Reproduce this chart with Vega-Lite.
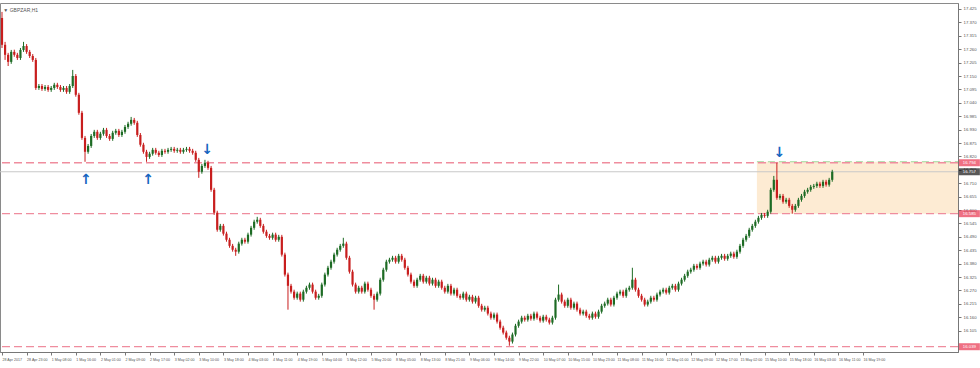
{
"$schema":"https://vega.github.io/schema/vega-lite/v6.json",
"width":958,"height":349,
"autosize":{"type":"none"},
"padding":{"left":0,"top":3,"right":22,"bottom":16},
"background":"white",
"config":{"view":{"stroke":"#8a8a8a","strokeWidth":1},"font":"Liberation Sans",
 "axis":{"labelOverlap":false,"labelFlush":false,"labelFont":"Liberation Sans","labelFontSize":4.3,"labelColor":"#555","grid":false,"title":null,"tickColor":"#777","domainColor":"#777","tickSize":3,"labelPadding":2}},
"title":{"text":"▼ GBPZAR,H1","anchor":"start","fontSize":5,"fontWeight":"normal","color":"#555","offset":-10,"dx":4,"font":"Liberation Sans"},
"datasets":{
"candles":[
{"n":0,"o":17.388,"h":17.413,"l":17.265,"c":17.278},
{"n":1,"o":17.278,"h":17.290,"l":17.216,"c":17.237},
{"n":2,"o":17.237,"h":17.245,"l":17.191,"c":17.208},
{"n":3,"o":17.208,"h":17.257,"l":17.200,"c":17.249},
{"n":4,"o":17.249,"h":17.258,"l":17.229,"c":17.237},
{"n":5,"o":17.237,"h":17.245,"l":17.216,"c":17.224},
{"n":6,"o":17.224,"h":17.265,"l":17.216,"c":17.257},
{"n":7,"o":17.257,"h":17.290,"l":17.249,"c":17.273},
{"n":8,"o":17.273,"h":17.281,"l":17.241,"c":17.249},
{"n":9,"o":17.249,"h":17.257,"l":17.224,"c":17.232},
{"n":10,"o":17.232,"h":17.240,"l":17.208,"c":17.216},
{"n":11,"o":17.216,"h":17.224,"l":17.093,"c":17.101},
{"n":12,"o":17.101,"h":17.117,"l":17.093,"c":17.109},
{"n":13,"o":17.109,"h":17.117,"l":17.089,"c":17.097},
{"n":14,"o":17.097,"h":17.113,"l":17.089,"c":17.105},
{"n":15,"o":17.105,"h":17.113,"l":17.085,"c":17.093},
{"n":16,"o":17.093,"h":17.109,"l":17.085,"c":17.101},
{"n":17,"o":17.101,"h":17.122,"l":17.093,"c":17.114},
{"n":18,"o":17.114,"h":17.122,"l":17.097,"c":17.105},
{"n":19,"o":17.105,"h":17.113,"l":17.085,"c":17.093},
{"n":20,"o":17.093,"h":17.109,"l":17.085,"c":17.101},
{"n":21,"o":17.101,"h":17.109,"l":17.077,"c":17.085},
{"n":22,"o":17.085,"h":17.117,"l":17.077,"c":17.109},
{"n":23,"o":17.109,"h":17.175,"l":17.101,"c":17.150},
{"n":24,"o":17.150,"h":17.158,"l":17.065,"c":17.073},
{"n":25,"o":17.073,"h":17.081,"l":16.991,"c":16.999},
{"n":26,"o":16.999,"h":17.007,"l":16.888,"c":16.896},
{"n":27,"o":16.896,"h":16.904,"l":16.798,"c":16.839},
{"n":28,"o":16.839,"h":16.871,"l":16.831,"c":16.863},
{"n":29,"o":16.863,"h":16.912,"l":16.855,"c":16.904},
{"n":30,"o":16.904,"h":16.929,"l":16.896,"c":16.921},
{"n":31,"o":16.921,"h":16.929,"l":16.888,"c":16.896},
{"n":32,"o":16.896,"h":16.921,"l":16.888,"c":16.913},
{"n":33,"o":16.913,"h":16.937,"l":16.905,"c":16.929},
{"n":34,"o":16.929,"h":16.937,"l":16.896,"c":16.904},
{"n":35,"o":16.904,"h":16.912,"l":16.884,"c":16.892},
{"n":36,"o":16.892,"h":16.925,"l":16.884,"c":16.917},
{"n":37,"o":16.917,"h":16.933,"l":16.909,"c":16.925},
{"n":38,"o":16.925,"h":16.933,"l":16.900,"c":16.908},
{"n":39,"o":16.908,"h":16.929,"l":16.900,"c":16.921},
{"n":40,"o":16.921,"h":16.949,"l":16.913,"c":16.941},
{"n":41,"o":16.941,"h":16.962,"l":16.933,"c":16.954},
{"n":42,"o":16.954,"h":16.982,"l":16.946,"c":16.970},
{"n":43,"o":16.970,"h":16.978,"l":16.950,"c":16.958},
{"n":44,"o":16.958,"h":16.966,"l":16.900,"c":16.908},
{"n":45,"o":16.908,"h":16.916,"l":16.860,"c":16.868},
{"n":46,"o":16.868,"h":16.876,"l":16.831,"c":16.839},
{"n":47,"o":16.839,"h":16.847,"l":16.798,"c":16.818},
{"n":48,"o":16.818,"h":16.839,"l":16.810,"c":16.831},
{"n":49,"o":16.831,"h":16.855,"l":16.823,"c":16.847},
{"n":50,"o":16.847,"h":16.855,"l":16.827,"c":16.835},
{"n":51,"o":16.835,"h":16.843,"l":16.818,"c":16.826},
{"n":52,"o":16.826,"h":16.851,"l":16.818,"c":16.843},
{"n":53,"o":16.843,"h":16.851,"l":16.831,"c":16.839},
{"n":54,"o":16.839,"h":16.855,"l":16.831,"c":16.847},
{"n":55,"o":16.847,"h":16.859,"l":16.839,"c":16.851},
{"n":56,"o":16.851,"h":16.859,"l":16.835,"c":16.843},
{"n":57,"o":16.843,"h":16.855,"l":16.835,"c":16.847},
{"n":58,"o":16.847,"h":16.855,"l":16.831,"c":16.839},
{"n":59,"o":16.839,"h":16.855,"l":16.831,"c":16.847},
{"n":60,"o":16.847,"h":16.859,"l":16.839,"c":16.851},
{"n":61,"o":16.851,"h":16.859,"l":16.835,"c":16.843},
{"n":62,"o":16.843,"h":16.851,"l":16.827,"c":16.835},
{"n":63,"o":16.835,"h":16.843,"l":16.798,"c":16.806},
{"n":64,"o":16.806,"h":16.814,"l":16.732,"c":16.757},
{"n":65,"o":16.757,"h":16.789,"l":16.749,"c":16.781},
{"n":66,"o":16.781,"h":16.806,"l":16.773,"c":16.794},
{"n":67,"o":16.794,"h":16.802,"l":16.765,"c":16.773},
{"n":68,"o":16.773,"h":16.781,"l":16.675,"c":16.683},
{"n":69,"o":16.683,"h":16.691,"l":16.580,"c":16.589},
{"n":70,"o":16.589,"h":16.597,"l":16.511,"c":16.519},
{"n":71,"o":16.519,"h":16.543,"l":16.511,"c":16.535},
{"n":72,"o":16.535,"h":16.543,"l":16.495,"c":16.503},
{"n":73,"o":16.503,"h":16.511,"l":16.470,"c":16.478},
{"n":74,"o":16.478,"h":16.486,"l":16.445,"c":16.453},
{"n":75,"o":16.453,"h":16.461,"l":16.429,"c":16.437},
{"n":76,"o":16.437,"h":16.445,"l":16.412,"c":16.429},
{"n":77,"o":16.429,"h":16.470,"l":16.421,"c":16.462},
{"n":78,"o":16.462,"h":16.486,"l":16.454,"c":16.478},
{"n":79,"o":16.478,"h":16.486,"l":16.462,"c":16.470},
{"n":80,"o":16.470,"h":16.507,"l":16.462,"c":16.499},
{"n":81,"o":16.499,"h":16.535,"l":16.491,"c":16.527},
{"n":82,"o":16.527,"h":16.560,"l":16.519,"c":16.552},
{"n":83,"o":16.552,"h":16.572,"l":16.544,"c":16.560},
{"n":84,"o":16.560,"h":16.568,"l":16.527,"c":16.535},
{"n":85,"o":16.535,"h":16.543,"l":16.503,"c":16.511},
{"n":86,"o":16.511,"h":16.519,"l":16.486,"c":16.494},
{"n":87,"o":16.494,"h":16.502,"l":16.478,"c":16.486},
{"n":88,"o":16.486,"h":16.507,"l":16.478,"c":16.499},
{"n":89,"o":16.499,"h":16.507,"l":16.470,"c":16.478},
{"n":90,"o":16.478,"h":16.498,"l":16.470,"c":16.490},
{"n":91,"o":16.490,"h":16.498,"l":16.409,"c":16.417},
{"n":92,"o":16.417,"h":16.425,"l":16.327,"c":16.335},
{"n":93,"o":16.335,"h":16.343,"l":16.191,"c":16.289},
{"n":94,"o":16.289,"h":16.297,"l":16.257,"c":16.265},
{"n":95,"o":16.265,"h":16.273,"l":16.232,"c":16.240},
{"n":96,"o":16.240,"h":16.265,"l":16.232,"c":16.257},
{"n":97,"o":16.257,"h":16.265,"l":16.224,"c":16.232},
{"n":98,"o":16.232,"h":16.273,"l":16.224,"c":16.265},
{"n":99,"o":16.265,"h":16.289,"l":16.257,"c":16.281},
{"n":100,"o":16.281,"h":16.302,"l":16.273,"c":16.294},
{"n":101,"o":16.294,"h":16.302,"l":16.257,"c":16.265},
{"n":102,"o":16.265,"h":16.273,"l":16.232,"c":16.240},
{"n":103,"o":16.240,"h":16.256,"l":16.232,"c":16.248},
{"n":104,"o":16.248,"h":16.302,"l":16.240,"c":16.294},
{"n":105,"o":16.294,"h":16.343,"l":16.286,"c":16.335},
{"n":106,"o":16.335,"h":16.371,"l":16.327,"c":16.363},
{"n":107,"o":16.363,"h":16.396,"l":16.355,"c":16.388},
{"n":108,"o":16.388,"h":16.425,"l":16.380,"c":16.417},
{"n":109,"o":16.417,"h":16.445,"l":16.409,"c":16.437},
{"n":110,"o":16.437,"h":16.461,"l":16.429,"c":16.453},
{"n":111,"o":16.453,"h":16.486,"l":16.445,"c":16.462},
{"n":112,"o":16.462,"h":16.470,"l":16.396,"c":16.404},
{"n":113,"o":16.404,"h":16.412,"l":16.339,"c":16.347},
{"n":114,"o":16.347,"h":16.355,"l":16.286,"c":16.294},
{"n":115,"o":16.294,"h":16.302,"l":16.257,"c":16.265},
{"n":116,"o":16.265,"h":16.289,"l":16.257,"c":16.281},
{"n":117,"o":16.281,"h":16.289,"l":16.257,"c":16.265},
{"n":118,"o":16.265,"h":16.306,"l":16.257,"c":16.298},
{"n":119,"o":16.298,"h":16.306,"l":16.265,"c":16.273},
{"n":120,"o":16.273,"h":16.281,"l":16.240,"c":16.248},
{"n":121,"o":16.248,"h":16.256,"l":16.191,"c":16.232},
{"n":122,"o":16.232,"h":16.265,"l":16.224,"c":16.257},
{"n":123,"o":16.257,"h":16.322,"l":16.249,"c":16.314},
{"n":124,"o":16.314,"h":16.363,"l":16.306,"c":16.355},
{"n":125,"o":16.355,"h":16.396,"l":16.347,"c":16.388},
{"n":126,"o":16.388,"h":16.404,"l":16.380,"c":16.396},
{"n":127,"o":16.396,"h":16.412,"l":16.388,"c":16.404},
{"n":128,"o":16.404,"h":16.412,"l":16.380,"c":16.388},
{"n":129,"o":16.388,"h":16.420,"l":16.380,"c":16.412},
{"n":130,"o":16.412,"h":16.420,"l":16.388,"c":16.396},
{"n":131,"o":16.396,"h":16.404,"l":16.355,"c":16.363},
{"n":132,"o":16.363,"h":16.371,"l":16.327,"c":16.335},
{"n":133,"o":16.335,"h":16.343,"l":16.298,"c":16.306},
{"n":134,"o":16.306,"h":16.314,"l":16.281,"c":16.289},
{"n":135,"o":16.289,"h":16.322,"l":16.281,"c":16.314},
{"n":136,"o":16.314,"h":16.338,"l":16.306,"c":16.330},
{"n":137,"o":16.330,"h":16.338,"l":16.298,"c":16.306},
{"n":138,"o":16.306,"h":16.330,"l":16.298,"c":16.322},
{"n":139,"o":16.322,"h":16.330,"l":16.290,"c":16.298},
{"n":140,"o":16.298,"h":16.322,"l":16.290,"c":16.314},
{"n":141,"o":16.314,"h":16.322,"l":16.281,"c":16.289},
{"n":142,"o":16.289,"h":16.314,"l":16.281,"c":16.306},
{"n":143,"o":16.306,"h":16.314,"l":16.273,"c":16.281},
{"n":144,"o":16.281,"h":16.289,"l":16.257,"c":16.265},
{"n":145,"o":16.265,"h":16.297,"l":16.257,"c":16.289},
{"n":146,"o":16.289,"h":16.297,"l":16.249,"c":16.257},
{"n":147,"o":16.257,"h":16.281,"l":16.249,"c":16.273},
{"n":148,"o":16.273,"h":16.281,"l":16.240,"c":16.248},
{"n":149,"o":16.248,"h":16.256,"l":16.232,"c":16.240},
{"n":150,"o":16.240,"h":16.265,"l":16.232,"c":16.257},
{"n":151,"o":16.257,"h":16.265,"l":16.224,"c":16.232},
{"n":152,"o":16.232,"h":16.252,"l":16.224,"c":16.244},
{"n":153,"o":16.244,"h":16.252,"l":16.216,"c":16.224},
{"n":154,"o":16.224,"h":16.248,"l":16.216,"c":16.240},
{"n":155,"o":16.240,"h":16.248,"l":16.199,"c":16.207},
{"n":156,"o":16.207,"h":16.215,"l":16.183,"c":16.191},
{"n":157,"o":16.191,"h":16.207,"l":16.183,"c":16.199},
{"n":158,"o":16.199,"h":16.207,"l":16.167,"c":16.175},
{"n":159,"o":16.175,"h":16.183,"l":16.150,"c":16.158},
{"n":160,"o":16.158,"h":16.179,"l":16.150,"c":16.171},
{"n":161,"o":16.171,"h":16.179,"l":16.134,"c":16.142},
{"n":162,"o":16.142,"h":16.150,"l":16.109,"c":16.117},
{"n":163,"o":16.117,"h":16.125,"l":16.089,"c":16.097},
{"n":164,"o":16.097,"h":16.105,"l":16.068,"c":16.076},
{"n":165,"o":16.076,"h":16.084,"l":16.043,"c":16.060},
{"n":166,"o":16.060,"h":16.097,"l":16.052,"c":16.089},
{"n":167,"o":16.089,"h":16.133,"l":16.081,"c":16.125},
{"n":168,"o":16.125,"h":16.150,"l":16.117,"c":16.142},
{"n":169,"o":16.142,"h":16.166,"l":16.134,"c":16.158},
{"n":170,"o":16.158,"h":16.166,"l":16.142,"c":16.150},
{"n":171,"o":16.150,"h":16.174,"l":16.142,"c":16.166},
{"n":172,"o":16.166,"h":16.174,"l":16.146,"c":16.154},
{"n":173,"o":16.154,"h":16.183,"l":16.146,"c":16.175},
{"n":174,"o":16.175,"h":16.183,"l":16.150,"c":16.158},
{"n":175,"o":16.158,"h":16.166,"l":16.138,"c":16.146},
{"n":176,"o":16.146,"h":16.170,"l":16.138,"c":16.162},
{"n":177,"o":16.162,"h":16.170,"l":16.142,"c":16.150},
{"n":178,"o":16.150,"h":16.158,"l":16.130,"c":16.138},
{"n":179,"o":16.138,"h":16.166,"l":16.130,"c":16.158},
{"n":180,"o":16.158,"h":16.240,"l":16.150,"c":16.232},
{"n":181,"o":16.232,"h":16.294,"l":16.224,"c":16.253},
{"n":182,"o":16.253,"h":16.261,"l":16.216,"c":16.224},
{"n":183,"o":16.224,"h":16.232,"l":16.199,"c":16.207},
{"n":184,"o":16.207,"h":16.240,"l":16.199,"c":16.232},
{"n":185,"o":16.232,"h":16.240,"l":16.191,"c":16.199},
{"n":186,"o":16.199,"h":16.224,"l":16.191,"c":16.216},
{"n":187,"o":16.216,"h":16.224,"l":16.183,"c":16.191},
{"n":188,"o":16.191,"h":16.199,"l":16.167,"c":16.175},
{"n":189,"o":16.175,"h":16.191,"l":16.167,"c":16.183},
{"n":190,"o":16.183,"h":16.191,"l":16.158,"c":16.166},
{"n":191,"o":16.166,"h":16.174,"l":16.150,"c":16.158},
{"n":192,"o":16.158,"h":16.183,"l":16.150,"c":16.175},
{"n":193,"o":16.175,"h":16.183,"l":16.154,"c":16.162},
{"n":194,"o":16.162,"h":16.191,"l":16.154,"c":16.183},
{"n":195,"o":16.183,"h":16.215,"l":16.175,"c":16.207},
{"n":196,"o":16.207,"h":16.224,"l":16.199,"c":16.216},
{"n":197,"o":16.216,"h":16.240,"l":16.208,"c":16.232},
{"n":198,"o":16.232,"h":16.240,"l":16.204,"c":16.212},
{"n":199,"o":16.212,"h":16.248,"l":16.204,"c":16.240},
{"n":200,"o":16.240,"h":16.265,"l":16.232,"c":16.257},
{"n":201,"o":16.257,"h":16.273,"l":16.249,"c":16.265},
{"n":202,"o":16.265,"h":16.273,"l":16.240,"c":16.248},
{"n":203,"o":16.248,"h":16.281,"l":16.240,"c":16.273},
{"n":204,"o":16.273,"h":16.289,"l":16.265,"c":16.281},
{"n":205,"o":16.281,"h":16.363,"l":16.273,"c":16.314},
{"n":206,"o":16.314,"h":16.322,"l":16.265,"c":16.273},
{"n":207,"o":16.273,"h":16.281,"l":16.240,"c":16.248},
{"n":208,"o":16.248,"h":16.256,"l":16.224,"c":16.232},
{"n":209,"o":16.232,"h":16.240,"l":16.204,"c":16.212},
{"n":210,"o":16.212,"h":16.232,"l":16.204,"c":16.224},
{"n":211,"o":16.224,"h":16.248,"l":16.216,"c":16.240},
{"n":212,"o":16.240,"h":16.248,"l":16.224,"c":16.232},
{"n":213,"o":16.232,"h":16.261,"l":16.224,"c":16.253},
{"n":214,"o":16.253,"h":16.273,"l":16.245,"c":16.265},
{"n":215,"o":16.265,"h":16.281,"l":16.257,"c":16.273},
{"n":216,"o":16.273,"h":16.281,"l":16.253,"c":16.261},
{"n":217,"o":16.261,"h":16.289,"l":16.253,"c":16.281},
{"n":218,"o":16.281,"h":16.297,"l":16.273,"c":16.289},
{"n":219,"o":16.289,"h":16.297,"l":16.265,"c":16.273},
{"n":220,"o":16.273,"h":16.306,"l":16.265,"c":16.298},
{"n":221,"o":16.298,"h":16.322,"l":16.290,"c":16.314},
{"n":222,"o":16.314,"h":16.338,"l":16.306,"c":16.330},
{"n":223,"o":16.330,"h":16.355,"l":16.322,"c":16.347},
{"n":224,"o":16.347,"h":16.363,"l":16.339,"c":16.355},
{"n":225,"o":16.355,"h":16.379,"l":16.347,"c":16.371},
{"n":226,"o":16.371,"h":16.379,"l":16.355,"c":16.363},
{"n":227,"o":16.363,"h":16.388,"l":16.355,"c":16.380},
{"n":228,"o":16.380,"h":16.396,"l":16.372,"c":16.388},
{"n":229,"o":16.388,"h":16.396,"l":16.368,"c":16.376},
{"n":230,"o":16.376,"h":16.404,"l":16.368,"c":16.396},
{"n":231,"o":16.396,"h":16.412,"l":16.388,"c":16.404},
{"n":232,"o":16.404,"h":16.412,"l":16.380,"c":16.388},
{"n":233,"o":16.388,"h":16.412,"l":16.380,"c":16.404},
{"n":234,"o":16.404,"h":16.420,"l":16.396,"c":16.412},
{"n":235,"o":16.412,"h":16.420,"l":16.392,"c":16.400},
{"n":236,"o":16.400,"h":16.420,"l":16.392,"c":16.412},
{"n":237,"o":16.412,"h":16.429,"l":16.404,"c":16.421},
{"n":238,"o":16.421,"h":16.429,"l":16.400,"c":16.408},
{"n":239,"o":16.408,"h":16.437,"l":16.400,"c":16.429},
{"n":240,"o":16.429,"h":16.461,"l":16.421,"c":16.453},
{"n":241,"o":16.453,"h":16.486,"l":16.445,"c":16.478},
{"n":242,"o":16.478,"h":16.502,"l":16.470,"c":16.494},
{"n":243,"o":16.494,"h":16.527,"l":16.486,"c":16.519},
{"n":244,"o":16.519,"h":16.543,"l":16.511,"c":16.535},
{"n":245,"o":16.535,"h":16.560,"l":16.527,"c":16.552},
{"n":246,"o":16.552,"h":16.576,"l":16.544,"c":16.568},
{"n":247,"o":16.568,"h":16.588,"l":16.560,"c":16.580},
{"n":248,"o":16.580,"h":16.588,"l":16.568,"c":16.576},
{"n":249,"o":16.576,"h":16.601,"l":16.568,"c":16.593},
{"n":250,"o":16.593,"h":16.691,"l":16.585,"c":16.683},
{"n":251,"o":16.683,"h":16.740,"l":16.675,"c":16.724},
{"n":252,"o":16.724,"h":16.794,"l":16.642,"c":16.650},
{"n":253,"o":16.650,"h":16.666,"l":16.642,"c":16.658},
{"n":254,"o":16.658,"h":16.666,"l":16.626,"c":16.634},
{"n":255,"o":16.634,"h":16.650,"l":16.626,"c":16.642},
{"n":256,"o":16.642,"h":16.650,"l":16.609,"c":16.617},
{"n":257,"o":16.617,"h":16.625,"l":16.585,"c":16.601},
{"n":258,"o":16.601,"h":16.625,"l":16.593,"c":16.617},
{"n":259,"o":16.617,"h":16.650,"l":16.609,"c":16.642},
{"n":260,"o":16.642,"h":16.666,"l":16.634,"c":16.658},
{"n":261,"o":16.658,"h":16.683,"l":16.650,"c":16.675},
{"n":262,"o":16.675,"h":16.691,"l":16.667,"c":16.683},
{"n":263,"o":16.683,"h":16.703,"l":16.675,"c":16.695},
{"n":264,"o":16.695,"h":16.707,"l":16.687,"c":16.699},
{"n":265,"o":16.699,"h":16.716,"l":16.691,"c":16.708},
{"n":266,"o":16.708,"h":16.716,"l":16.691,"c":16.699},
{"n":267,"o":16.699,"h":16.724,"l":16.691,"c":16.716},
{"n":268,"o":16.716,"h":16.724,"l":16.696,"c":16.704},
{"n":269,"o":16.704,"h":16.732,"l":16.696,"c":16.724},
{"n":270,"o":16.724,"h":16.765,"l":16.716,"c":16.757}
],
"levels":[{"p":16.794},{"p":16.585},{"p":16.039}],
"box":[{"start":245.5,"end":310.9,"low":16.585,"high":16.798}],
"now":[{"p":16.757}],
"tags":[{"p":16.794,"kind":"level"},{"p":16.585,"kind":"level"},{"p":16.039,"kind":"level"},{"p":16.757,"kind":"price"}],
"arrows":[{"n":27.3,"p":16.724,"s":"↑"},{"n":47.5,"p":16.724,"s":"↑"},{"n":66.7,"p":16.847,"s":"↓"},{"n":252.8,"p":16.835,"s":"↓"}]
},
"layer":[
{"data":{"name":"box"},"mark":{"type":"rect","fill":"#fdebd3"},
 "encoding":{"x":{"field":"start","type":"quantitative","scale":{"domain":[-0.65,310.9],"nice":false,"zero":false},
   "axis":{"orient":"bottom","tickCount":200,"labelFontSize":3.6,"values":[0,8,16,24,32,40,48,56,64,72,80,88,96,104,112,120,128,136,144,152,160,168,176,184,192,200,208,216,224,232,240,248,256,264,272,280],
   "labelExpr":"['28 Apr 2017','28 Apr 23:00','1 May 08:00','1 May 16:00','2 May 01:00','2 May 09:00','2 May 17:00','3 May 02:00','3 May 10:00','3 May 18:00','4 May 03:00','4 May 11:00','4 May 19:00','5 May 04:00','5 May 12:00','5 May 20:00','8 May 05:00','8 May 13:00','8 May 21:00','9 May 06:00','9 May 14:00','9 May 22:00','10 May 07:00','10 May 15:00','10 May 23:00','11 May 08:00','11 May 16:00','12 May 01:00','12 May 09:00','12 May 17:00','15 May 02:00','15 May 10:00','15 May 18:00','16 May 03:00','16 May 11:00','16 May 19:00'][round(datum.value/8)]",
   "labelAlign":"left","labelOverlap":false}},
 "x2":{"field":"end"},
 "y":{"field":"low","type":"quantitative","scale":{"domain":[16.0173,17.4496],"nice":false,"zero":false},
   "axis":{"orient":"right","tickCount":200,"values":[17.425,17.37,17.315,17.26,17.205,17.15,17.095,17.04,16.985,16.93,16.875,16.82,16.765,16.71,16.655,16.6,16.545,16.49,16.435,16.38,16.325,16.27,16.215,16.16,16.105],"format":".3f","labelOverlap":false}},
 "y2":{"field":"high"}}},
{"data":{"name":"box"},"mark":{"type":"rule","stroke":"#9fd89a","strokeWidth":1.2,"strokeDash":[7,4]},
 "encoding":{"x":{"field":"start","type":"quantitative"},"x2":{"field":"end"},"y":{"field":"high","type":"quantitative"}}},
{"data":{"name":"levels"},"mark":{"type":"rule","stroke":"#ef8d9e","strokeWidth":1.3,"strokeDash":[8,4]},
 "encoding":{"y":{"field":"p","type":"quantitative"}}},
{"data":{"name":"now"},"mark":{"type":"rule","stroke":"#c8c8c8","strokeWidth":1},
 "encoding":{"y":{"field":"p","type":"quantitative"}}},
{"data":{"name":"candles"},"mark":{"type":"rule","strokeWidth":1},
 "encoding":{
  "x":{"field":"n","type":"quantitative"},
  "y":{"field":"l","type":"quantitative"},
  "y2":{"field":"h"},
  "color":{"condition":{"test":"datum.c>=datum.o","value":"#1d6b24"},"value":"#c81e1e"}}},
{"data":{"name":"candles"},"mark":{"type":"rule","strokeWidth":2.2},
 "encoding":{"x":{"field":"n","type":"quantitative"},"y":{"field":"o","type":"quantitative"},"y2":{"field":"c"},
  "color":{"condition":{"test":"datum.c>=datum.o","value":"#1d6b24"},"value":"#c81e1e"}}},
{"data":{"name":"arrows"},"mark":{"type":"text","fontSize":14,"fontWeight":"bold","font":"DejaVu Sans","color":"#1565c0","baseline":"middle","align":"center"},
 "encoding":{"x":{"field":"n","type":"quantitative"},"y":{"field":"p","type":"quantitative"},"text":{"field":"s"}}},
{"data":{"name":"tags"},"mark":{"type":"tick","orient":"horizontal","thickness":7,"size":21},
 "encoding":{"x":{"datum":314.6,"type":"quantitative"},"y":{"field":"p","type":"quantitative"},
  "color":{"field":"kind","type":"nominal","scale":{"domain":["level","price"],"range":["#e8334f","#111111"]},"legend":null}}},
{"data":{"name":"tags"},"mark":{"type":"text","fontSize":4.3,"color":"white","align":"center","baseline":"middle"},
 "encoding":{"x":{"datum":314.6,"type":"quantitative"},"y":{"field":"p","type":"quantitative"},"text":{"field":"p","format":".3f"}}}
]
}
